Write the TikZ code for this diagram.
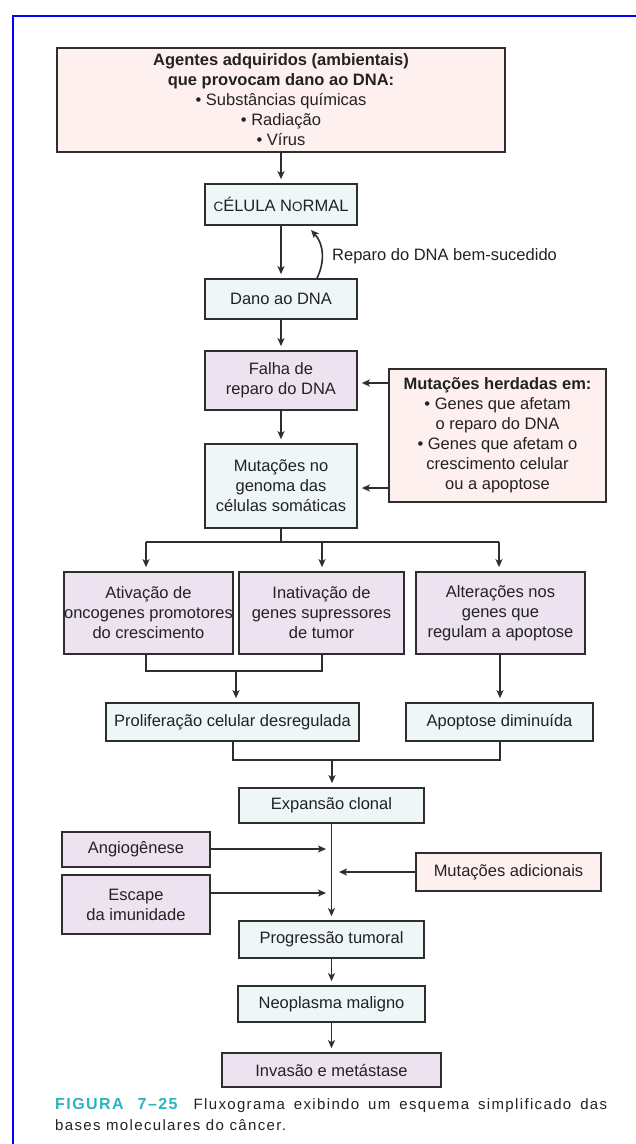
\documentclass[tikz,border=0pt]{standalone}
\usepackage{fontspec}
\setmainfont{Liberation Sans}
\newfontfamily\capfont[LetterSpace=9]{Liberation Sans}
\usetikzlibrary{arrows.meta,calc}
\definecolor{pinkf}{HTML}{FDF0EE}
\definecolor{bluef}{HTML}{EEF6F8}
\definecolor{lavf}{HTML}{EDE2EF}
\definecolor{edgec}{HTML}{2E2E2E}
\definecolor{txtc}{HTML}{222222}
\definecolor{capcol}{HTML}{2BB3C0}
\begin{document}
\begin{tikzpicture}[x=1pt,y=-1pt,
  box/.style={draw=edgec, line width=1.7pt, align=center, inner sep=0pt, text=txtc, font=\fontsize{16.5}{20}\selectfont},
  pinkbox/.style={box, fill=pinkf},
  bluebox/.style={box, fill=bluef},
  lavbox/.style={box, fill=lavf},
  tip/.style={-{Stealth[length=8pt,width=7pt,inset=2pt]}},
  arr/.style={draw=edgec, line width=1.6pt, tip, shorten >=4pt},
  arrz/.style={draw=edgec, line width=1.6pt, tip},
  ln/.style={draw=edgec, line width=1.6pt},
  lbl/.style={text=txtc, font=\fontsize{16.5}{20}\selectfont, inner sep=0pt}]
\useasboundingbox (0,0) rectangle (635,1144);
\fill[white] (0,0) rectangle (635,1144);
\draw[blue, line width=2pt] (13,1146) -- (13,16) -- (637,16);

% nodes
\node[pinkbox, minimum width=448pt, minimum height=104pt] (top) at (281,100)
  {\textbf{Agentes adquiridos (ambientais)}\\\textbf{que provocam dano ao DNA:}\\• Substâncias químicas\\• Radiação\\• Vírus};
\node[bluebox, minimum width=152pt, minimum height=41pt] (cel) at (281,204.5)
  {{\fontsize{13.5}{20}\selectfont C}ÉLULA N{\fontsize{13.5}{20}\selectfont O}RMAL};
\node[bluebox, minimum width=152pt, minimum height=40pt] (dano) at (281,299) {Dano ao DNA};
\node[lavbox, minimum width=152pt, minimum height=59pt] (falha) at (281,380.5) {Falha de\\reparo do DNA};
\node[pinkbox, minimum width=217pt, minimum height=133pt] (herd) at (497.5,435.5)
  {\textbf{Mutações herdadas em:}\\• Genes que afetam\\o reparo do DNA\\• Genes que afetam o\\crescimento celular\\ou a apoptose};
\node[bluebox, minimum width=152pt, minimum height=84pt] (mut) at (281,486) {Mutações no\\genoma das\\células somáticas};
\node[lavbox, minimum width=163pt, minimum height=82pt] (b1) at (148.5,613) {Ativação de\\oncogenes promotores\\do crescimento};
\node[lavbox, minimum width=165pt, minimum height=82pt] (b2) at (321.5,613) {Inativação de\\genes supressores\\de tumor};
\node[lavbox, minimum width=169pt, minimum height=82pt] (b3) at (500.5,613) {Alterações nos\\genes que\\regulam a apoptose};
\node[bluebox, minimum width=253pt, minimum height=38pt] (prol) at (232.5,722) {Proliferação celular desregulada};
\node[bluebox, minimum width=187pt, minimum height=38pt] (apop) at (499.5,722) {Apoptose diminuída};
\node[bluebox, minimum width=185pt, minimum height=35pt] (exp) at (331.5,805.5) {Expansão clonal};
\node[lavbox, minimum width=148pt, minimum height=35pt] (ang) at (136,849.5) {Angiogênese};
\node[lavbox, minimum width=148pt, minimum height=59pt] (esc) at (136,904.5) {Escape\\da imunidade};
\node[pinkbox, minimum width=185pt, minimum height=38pt] (madic) at (508.5,872) {Mutações adicionais};
\node[bluebox, minimum width=185pt, minimum height=37pt] (prog) at (331.5,939.5) {Progressão tumoral};
\node[bluebox, minimum width=187pt, minimum height=36pt] (neo) at (331.5,1004) {Neoplasma maligno};
\node[lavbox, minimum width=219pt, minimum height=34pt] (inv) at (331.5,1070) {Invasão e metástase};

\node[lbl, anchor=west] (rep) at (332,256) {Reparo do DNA bem-sucedido};

% connectors top part
\draw[arr] (top) -- (cel);
\draw[arr] (cel) -- (dano);
\coordinate (rx) at (317,0);
\coordinate (rtip) at (311,230);
\draw[arrz] (dano.north -| rx) .. controls (325,262) and (324,244) .. (rtip);
\draw[arr] (dano) -- (falha);
\draw[arr] (falha) -- (mut);
\coordinate (h1) at (0,383);
\coordinate (h2) at (0,488);
\draw[arr] (herd.west |- h1) -- (falha.east |- h1);
\draw[arr] (herd.west |- h2) -- (mut.east |- h2);

% branch to three boxes
\coordinate (br) at (281,542);
\coordinate (bx1) at (146,542);
\coordinate (bx2) at (322,542);
\coordinate (bx3) at (499,542);
\draw[ln] (mut.south) -- (br);
\draw[ln] (bx1) -- (bx3);
\draw[arr] (bx1) -- (bx1 |- b1.north);
\draw[arr] (bx2) -- (bx2 |- b2.north);
\draw[arr] (bx3) -- (bx3 |- b3.north);

% join b1 b2
\coordinate (j1) at (146,671);
\coordinate (j2) at (322,671);
\coordinate (j3) at (236,671);
\draw[ln] (j1 |- b1.south) -- (j1) -- (j2) -- (j2 |- b2.south);
\draw[arr] (j3) -- (j3 |- prol.north);
\coordinate (k3) at (500,0);
\draw[arr] (k3 |- b3.south) -- (k3 |- apop.north);

% join prol apop
\coordinate (m1) at (233,760);
\coordinate (m2) at (500,760);
\coordinate (m3) at (332,760);
\draw[ln] (m1 |- prol.south) -- (m1) -- (m2) -- (m2 |- apop.south);
\draw[arr] (m3) -- (m3 |- exp.north);

% lower part
\draw[arr] (exp) -- (prog);
\coordinate (a1) at (326,849);
\coordinate (a2) at (326,893);
\coordinate (a3) at (339,872);
\draw[arrz] (ang.east |- a1) -- (a1);
\draw[arrz] (esc.east |- a2) -- (a2);
\draw[arrz] (madic.west |- a3) -- (a3);
\draw[arr] (prog) -- (neo);
\draw[arr] (neo) -- (inv);

% caption
\node[anchor=north west, text width=552pt, align=justify, inner sep=0pt, text=txtc,
  font=\capfont\fontsize{15}{21}\selectfont] (cap) at (55,1098)
  {{\color{capcol}\bfseries\fontsize{16}{21}\selectfont FIGURA\hspace{14pt}7–25}\hspace{16pt}Fluxograma exibindo um esquema simplificado das\linebreak bases moleculares do câncer.};
\end{tikzpicture}
\end{document}
